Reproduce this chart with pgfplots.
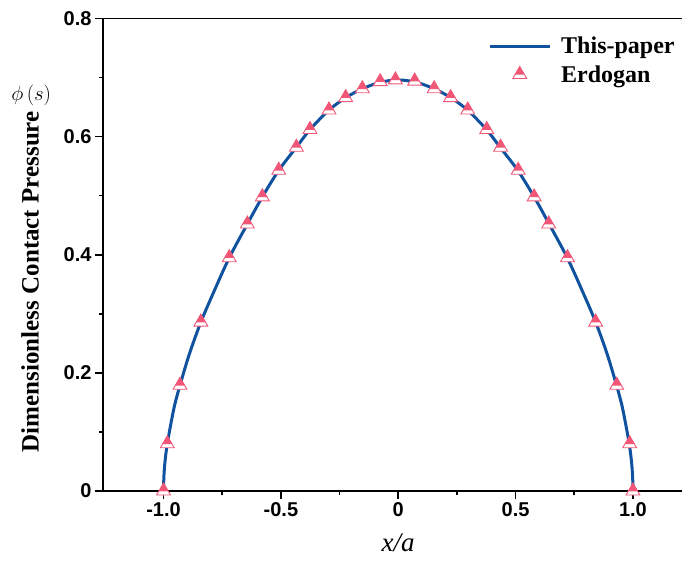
\documentclass[border=0pt]{standalone}
\usepackage{pgfplots}
\pgfplotsset{compat=1.18}
\usepackage{pgfplotstable}
\usepackage{fontspec}
\setmainfont{Liberation Serif}
\newfontfamily\arialfont{Liberation Sans}
\definecolor{lineblue}{RGB}{16,82,160}
\definecolor{mkpink}{RGB}{242,86,118}

\pgfdeclareplotmark{halftri}{%
  \pgfpathmoveto{\pgfqpoint{0pt}{8pt}}%
  \pgfpathlineto{\pgfqpoint{-6.93pt}{-4pt}}%
  \pgfpathlineto{\pgfqpoint{6.93pt}{-4pt}}%
  \pgfpathclose
  \pgfsetfillcolor{white}\pgfsetstrokecolor{mkpink}%
  \pgfsetlinewidth{0.9pt}%
  \pgfusepathqfillstroke
  \pgfpathmoveto{\pgfqpoint{0pt}{8pt}}%
  \pgfpathlineto{\pgfqpoint{-4.76pt}{-0.25pt}}%
  \pgfpathlineto{\pgfqpoint{4.76pt}{-0.25pt}}%
  \pgfpathclose
  \pgfsetfillcolor{mkpink}%
  \pgfusepathqfill
}

\pgfplotstableread{
x y
-1.000 0.000
-0.999 0.020
-0.996 0.040
-0.991 0.060
-0.984 0.080
-0.972 0.107
-0.953 0.145
-0.930 0.179
-0.890 0.232
-0.841 0.286
-0.785 0.338
-0.720 0.395
-0.643 0.452
-0.579 0.498
-0.509 0.543
-0.434 0.582
-0.376 0.612
-0.295 0.645
-0.224 0.666
-0.153 0.681
-0.077 0.692
0.000 0.696
0.077 0.692
0.153 0.681
0.224 0.666
0.295 0.645
0.376 0.612
0.434 0.582
0.509 0.543
0.579 0.498
0.643 0.452
0.720 0.395
0.785 0.338
0.841 0.286
0.890 0.232
0.930 0.179
0.953 0.145
0.972 0.107
0.984 0.080
0.991 0.060
0.996 0.040
0.999 0.020
1.000 0.000
}\linedata

\pgfplotstableread{
x y
-1.000 0.000
-0.984 0.080
-0.930 0.179
-0.841 0.286
-0.720 0.395
-0.643 0.452
-0.579 0.498
-0.509 0.543
-0.434 0.582
-0.376 0.612
-0.295 0.645
-0.224 0.666
-0.153 0.681
-0.077 0.693
-0.012 0.696
0.070 0.694
0.153 0.681
0.223 0.666
0.296 0.645
0.377 0.612
0.436 0.582
0.511 0.543
0.579 0.498
0.641 0.452
0.721 0.395
0.841 0.286
0.931 0.179
0.986 0.080
1.000 0.000
}\erdogan

\begin{document}
\begin{tikzpicture}
\begin{axis}[
  scale only axis, width=579pt, height=472.5pt,
  xmin=-1.258, xmax=1.209, ymin=0, ymax=0.8,
  axis x line=box, axis y line=left,
  axis line style={-, line width=1.6pt},
  xtick pos=bottom, ytick pos=left,
  xtick={-1,-0.5,0,0.5,1}, xticklabels={-1.0,-0.5,0,0.5,1.0},
  ytick={0,0.2,0.4,0.6,0.8}, yticklabels={0,0.2,0.4,0.6,0.8},
  minor xtick={-0.75,-0.25,0.25,0.75}, minor ytick={0.1,0.3,0.5,0.7},
  tick align=outside, major tick length=8pt, minor tick length=4pt,
  every tick/.style={black, line width=1.6pt},
  tick label style={font=\arialfont\bfseries\fontsize{20}{20}\selectfont},
  clip=false,
  legend style={at={(rel axis cs:0.665,0.965)}, anchor=north west, draw=none, fill=none,
    font=\bfseries\fontsize{24}{24}\selectfont, row sep=6pt, inner sep=0pt,
    column sep=8pt},
  legend cell align=left,
]
\coordinate (SW) at (rel axis cs:0,0);
\coordinate (NE) at (rel axis cs:1,1);
\addplot[lineblue, line width=3pt, smooth, no markers,
  legend image code/.code={\draw[lineblue, line width=3pt] (0pt,0pt) -- (60pt,0pt);}]
  table {\linedata};
\addlegendentry{This-paper}
\addplot[only marks, mark=halftri,
  legend image code/.code={%
    \path (0pt,0pt) (60pt,0pt);
    \path[mark=halftri] plot coordinates {(30pt,0pt)};}]
  table {\erdogan};
\addlegendentry{Erdogan}
\node[rotate=90, font=\bfseries\fontsize{25}{25}\selectfont] at (rel axis cs:-0.126,0.443) {Dimensionless Contact Pressure};
\node[font=\fontsize{22}{22}\selectfont] at (rel axis cs:-0.124,0.838) {$\phi\,\Bigl(s\Bigr)$};
\node[font=\itshape\fontsize{27}{27}\selectfont] at (rel axis cs:0.5095,-0.109) {x/a};
\end{axis}
\pgfresetboundingbox
\path ([xshift=-103pt,yshift=-69pt]SW) rectangle ([yshift=18.5pt]NE);
\end{tikzpicture}
\end{document}
